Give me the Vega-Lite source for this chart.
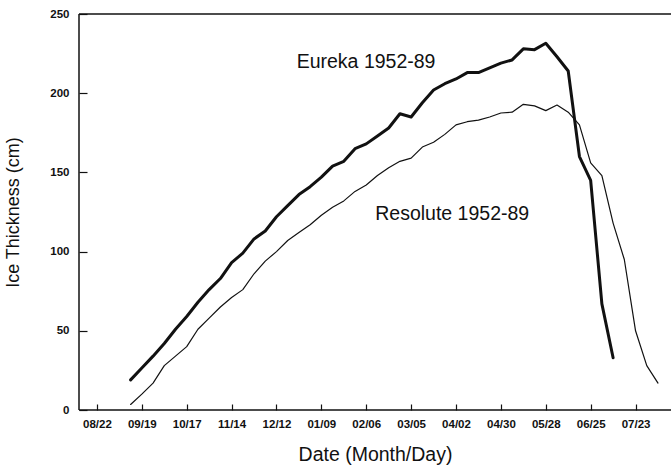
{
  "$schema": "https://vega.github.io/schema/vega-lite/v6.json",
  "autosize": {"type": "none"},
  "padding": {"left": 79, "top": 14, "right": 0, "bottom": 58},
  "width": 592,
  "height": 396,
  "background": "white",
  "config": {
    "view": {"stroke": null},
    "font": "Liberation Sans",
    "axis": {
      "domain": false,
      "tickColor": "#111",
      "tickWidth": 1.2,
      "grid": false,
      "labelFont": "Liberation Sans",
      "labelFontWeight": "bold",
      "labelFontSize": 11.5,
      "labelColor": "#111",
      "titleFont": "Liberation Sans",
      "titleFontWeight": "normal",
      "titleFontSize": 18,
      "titleColor": "#111"
    }
  },
  "datasets": {
    "ice": [
      {"station": "Eureka", "week": 3, "thickness": 19},
      {"station": "Eureka", "week": 4, "thickness": 26.5},
      {"station": "Eureka", "week": 5, "thickness": 34},
      {"station": "Eureka", "week": 6, "thickness": 42},
      {"station": "Eureka", "week": 7, "thickness": 51},
      {"station": "Eureka", "week": 8, "thickness": 59},
      {"station": "Eureka", "week": 9, "thickness": 68},
      {"station": "Eureka", "week": 10, "thickness": 76},
      {"station": "Eureka", "week": 11, "thickness": 83},
      {"station": "Eureka", "week": 12, "thickness": 93},
      {"station": "Eureka", "week": 13, "thickness": 99},
      {"station": "Eureka", "week": 14, "thickness": 108},
      {"station": "Eureka", "week": 15, "thickness": 113},
      {"station": "Eureka", "week": 16, "thickness": 122},
      {"station": "Eureka", "week": 17, "thickness": 129},
      {"station": "Eureka", "week": 18, "thickness": 136},
      {"station": "Eureka", "week": 19, "thickness": 141},
      {"station": "Eureka", "week": 20, "thickness": 147},
      {"station": "Eureka", "week": 21, "thickness": 154},
      {"station": "Eureka", "week": 22, "thickness": 157},
      {"station": "Eureka", "week": 23, "thickness": 165},
      {"station": "Eureka", "week": 24, "thickness": 168},
      {"station": "Eureka", "week": 25, "thickness": 173},
      {"station": "Eureka", "week": 26, "thickness": 178},
      {"station": "Eureka", "week": 27, "thickness": 187},
      {"station": "Eureka", "week": 28, "thickness": 185},
      {"station": "Eureka", "week": 29, "thickness": 194},
      {"station": "Eureka", "week": 30, "thickness": 202},
      {"station": "Eureka", "week": 31, "thickness": 206},
      {"station": "Eureka", "week": 32, "thickness": 209},
      {"station": "Eureka", "week": 33, "thickness": 213},
      {"station": "Eureka", "week": 34, "thickness": 213},
      {"station": "Eureka", "week": 35, "thickness": 216},
      {"station": "Eureka", "week": 36, "thickness": 219},
      {"station": "Eureka", "week": 37, "thickness": 221},
      {"station": "Eureka", "week": 38, "thickness": 228},
      {"station": "Eureka", "week": 39, "thickness": 227.5},
      {"station": "Eureka", "week": 40, "thickness": 231.5},
      {"station": "Eureka", "week": 41, "thickness": 223},
      {"station": "Eureka", "week": 42, "thickness": 214},
      {"station": "Eureka", "week": 43, "thickness": 160},
      {"station": "Eureka", "week": 44, "thickness": 145},
      {"station": "Eureka", "week": 45, "thickness": 67},
      {"station": "Eureka", "week": 46, "thickness": 33},
      {"station": "Resolute", "week": 3, "thickness": 3.5},
      {"station": "Resolute", "week": 4, "thickness": 10},
      {"station": "Resolute", "week": 5, "thickness": 17},
      {"station": "Resolute", "week": 6, "thickness": 28},
      {"station": "Resolute", "week": 7, "thickness": 34},
      {"station": "Resolute", "week": 8, "thickness": 40},
      {"station": "Resolute", "week": 9, "thickness": 51},
      {"station": "Resolute", "week": 10, "thickness": 58},
      {"station": "Resolute", "week": 11, "thickness": 65},
      {"station": "Resolute", "week": 12, "thickness": 71},
      {"station": "Resolute", "week": 13, "thickness": 76},
      {"station": "Resolute", "week": 14, "thickness": 86},
      {"station": "Resolute", "week": 15, "thickness": 94},
      {"station": "Resolute", "week": 16, "thickness": 100},
      {"station": "Resolute", "week": 17, "thickness": 107},
      {"station": "Resolute", "week": 18, "thickness": 112},
      {"station": "Resolute", "week": 19, "thickness": 117},
      {"station": "Resolute", "week": 20, "thickness": 123},
      {"station": "Resolute", "week": 21, "thickness": 128},
      {"station": "Resolute", "week": 22, "thickness": 132},
      {"station": "Resolute", "week": 23, "thickness": 138},
      {"station": "Resolute", "week": 24, "thickness": 142},
      {"station": "Resolute", "week": 25, "thickness": 148},
      {"station": "Resolute", "week": 26, "thickness": 153},
      {"station": "Resolute", "week": 27, "thickness": 157},
      {"station": "Resolute", "week": 28, "thickness": 159},
      {"station": "Resolute", "week": 29, "thickness": 166},
      {"station": "Resolute", "week": 30, "thickness": 169},
      {"station": "Resolute", "week": 31, "thickness": 174},
      {"station": "Resolute", "week": 32, "thickness": 180},
      {"station": "Resolute", "week": 33, "thickness": 182},
      {"station": "Resolute", "week": 34, "thickness": 183},
      {"station": "Resolute", "week": 35, "thickness": 185},
      {"station": "Resolute", "week": 36, "thickness": 187.5},
      {"station": "Resolute", "week": 37, "thickness": 188},
      {"station": "Resolute", "week": 38, "thickness": 193},
      {"station": "Resolute", "week": 39, "thickness": 192},
      {"station": "Resolute", "week": 40, "thickness": 189},
      {"station": "Resolute", "week": 41, "thickness": 192.5},
      {"station": "Resolute", "week": 42, "thickness": 188},
      {"station": "Resolute", "week": 43, "thickness": 180},
      {"station": "Resolute", "week": 44, "thickness": 156},
      {"station": "Resolute", "week": 45, "thickness": 148},
      {"station": "Resolute", "week": 46, "thickness": 118},
      {"station": "Resolute", "week": 47, "thickness": 95},
      {"station": "Resolute", "week": 48, "thickness": 50},
      {"station": "Resolute", "week": 49, "thickness": 28},
      {"station": "Resolute", "week": 50, "thickness": 17}
    ],
    "labels": [
      {"label": "Eureka  1952-89", "week": 17.8, "thickness": 220},
      {"label": "Resolute  1952-89", "week": 24.8, "thickness": 124}
    ]
  },
  "layer": [
    {
      "data": {"name": "ice"},
      "mark": {"type": "line", "color": "#111", "strokeJoin": "round", "strokeCap": "round"},
      "encoding": {
        "x": {
          "field": "week", "type": "quantitative",
          "scale": {"domain": [-1.6, 51.16], "nice": false, "zero": false},
          "axis": {
            "orient": "bottom",
            "offset": -6,
            "tickSize": 6,
            "title": "Date  (Month/Day)",
            "titleFontSize": 19.5,
            "titlePadding": 16,
            "values": [0,1,2,3,4,5,6,7,8,9,10,11,12,13,14,15,16,17,18,19,20,21,22,23,24,25,26,27,28,29,30,31,32,33,34,35,36,37,38,39,40,41,42,43,44,45,46,47,48,49,50],
            "labelExpr": "datum.value % 4 == 0 ? ['08/22','09/19','10/17','11/14','12/12','01/09','02/06','03/05','04/02','04/30','05/28','06/25','07/23'][datum.value / 4] : ''",
            "labelPadding": 8,
            "labelOverlap": false,
            "labelFlush": false
          }
        },
        "y": {
          "field": "thickness", "type": "quantitative",
          "scale": {"domain": [0, 250], "nice": false},
          "axis": {
            "orient": "left",
            "offset": -8,
            "tickSize": 8,
            "title": "Ice Thickness (cm)",
            "titlePadding": 27,
            "values": [0, 50, 100, 150, 200, 250],
            "labelPadding": 10
          }
        },
        "detail": {"field": "station"},
        "strokeWidth": {
          "field": "station", "type": "nominal",
          "scale": {"domain": ["Eureka", "Resolute"], "range": [3, 1.2]},
          "legend": null
        }
      }
    },
    {
      "data": {"values": [{"value": 0}, {"value": 250}]},
      "mark": {"type": "rule", "color": "#111", "strokeWidth": 1.5},
      "encoding": {"y": {"field": "value", "type": "quantitative"}}
    },
    {
      "data": {"values": [{"value": -1.6}]},
      "mark": {"type": "rule", "color": "#111", "strokeWidth": 1.5},
      "encoding": {"x": {"field": "value", "type": "quantitative"}}
    },
    {
      "data": {"name": "labels"},
      "mark": {"type": "text", "align": "left", "baseline": "middle", "fontSize": 19.5, "font": "Liberation Sans", "color": "#111"},
      "encoding": {
        "x": {"field": "week", "type": "quantitative"},
        "y": {"field": "thickness", "type": "quantitative"},
        "text": {"field": "label"}
      }
    }
  ]
}
